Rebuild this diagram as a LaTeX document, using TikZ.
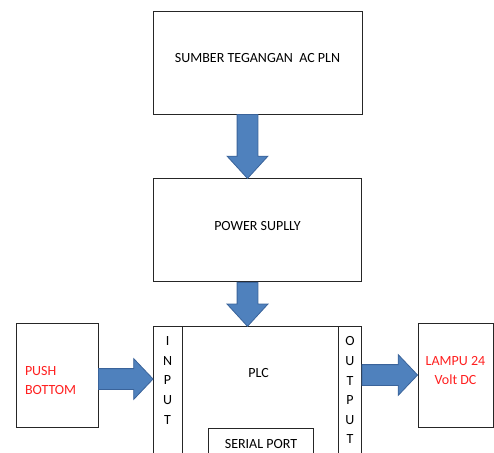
\documentclass[tikz,border=0pt]{standalone}
\usepackage{fontspec}
\setmainfont{Carlito}
\usetikzlibrary{positioning, shapes.arrows, calc}
\definecolor{arrowblue}{HTML}{4F81BD}
\definecolor{arrowedge}{HTML}{3A639A}
\definecolor{boxedge}{HTML}{262626}
\definecolor{labelred}{HTML}{FF2020}
\tikzstyle{box} = [rectangle, draw=boxedge, line width=0.9pt, fill=white, inner sep=0pt, text depth=9pt, align=center]
\tikzstyle{divider} = [draw=boxedge, line width=0.9pt]
\tikzstyle{letters} = [inner sep=0pt, align=center, font=\fontsize{14}{19.6}\selectfont]
\tikzstyle{fatarrow} = [single arrow, draw=arrowedge, fill=arrowblue, line width=0.8pt, minimum width=40pt, single arrow head extend=10pt, single arrow head indent=0pt, inner xsep=0pt, inner ysep=10pt, outer sep=0pt, anchor=tail]
\newcommand{\blockarrow}[3][]{%
  \path let \p1 = ($#3-#2$), \n1 = {veclen(\x1,\y1)}, \n2 = {atan2(\y1,\x1)} in
    node [fatarrow, minimum height=\n1, rotate=\n2, #1] at #2 {};
}

\begin{document}
\begin{tikzpicture}[x=1pt, y=1pt, font=\fontsize{14}{19}\selectfont]
\useasboundingbox (0,0) rectangle (494,-452);
\clip (0,0) rectangle (494,-452);
\node (Sumber) [box, minimum width=209pt, minimum height=103pt] at (257.5,-62.5) {SUMBER TEGANGAN\ \ AC PLN};
\node (Power) [box, minimum width=208pt, minimum height=103pt, below=64pt of Sumber] {POWER SUPLLY};
\node (PLC) [box, minimum width=208pt, minimum height=150pt, below=44pt of Power] {};
\node (PLCtext) at ([xshift=1pt, yshift=-47pt]PLC.north) {PLC};
\draw [divider] ([xshift=29pt]PLC.north west) -- ([xshift=29pt]PLC.south west);
\draw [divider] ([xshift=-24pt]PLC.north east) -- ([xshift=-24pt]PLC.south east);
\node (Input) [letters] at ([xshift=14.5pt, yshift=-54pt]PLC.north west) {I\\N\\P\\U\\T};
\node (Output) [letters] at ([xshift=-12pt, yshift=-64pt]PLC.north east) {O\\U\\T\\P\\U\\T};
\node (Serial) [box, minimum width=105pt, minimum height=40pt, anchor=north] at ([xshift=3.5pt, yshift=-102pt]PLC.north) {SERIAL PORT};
\node (Push) [box, minimum height=104pt, text width=64pt, inner xsep=9pt, align=left, text=labelred] at (57,-375) {PUSH\\BOTTOM};
\node (Lampu) [box, minimum width=75pt, minimum height=104pt, text=labelred] at (455.5,-375) {LAMPU 24\\Volt DC};

\coordinate (PushOut) at ([yshift=-4pt]Push.east);
\coordinate (PlcIn) at (PushOut -| PLC.west);
\coordinate (PlcOut) at (Lampu.west -| PLC.east);
\blockarrow[single arrow tip angle=85]{([xshift=-10pt]Sumber.south)}{([xshift=-10pt]Power.north)}
\blockarrow[single arrow tip angle=85]{([xshift=-10pt]Power.south)}{([xshift=-10pt]PLC.north)}
\blockarrow[single arrow tip angle=93]{(PushOut)}{(PlcIn)}
\blockarrow[single arrow tip angle=93]{(PlcOut)}{(Lampu.west)}
\end{tikzpicture}
\end{document}
